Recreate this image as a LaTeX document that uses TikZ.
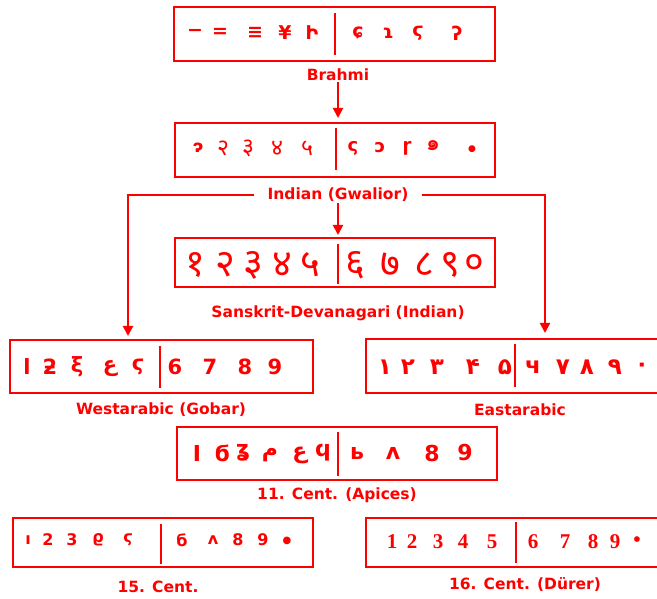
\documentclass[tikz,border=0pt]{standalone}
\usepackage{fontspec}
\setmainfont{DejaVu Sans}
\newfontfamily\symf{DejaVu Sans}
\newfontfamily\devaf[Script=Devanagari]{Noto Sans}
\newfontfamily\thaif[Script=Thai]{Loma}
\newfontfamily\serf{Liberation Serif}
\usetikzlibrary{arrows.meta}
\definecolor{rred}{RGB}{255,0,0}
\tikzset{
  frame/.style={draw=rred, line width=2pt, rectangle, inner sep=0pt},
  divider/.style={draw=rred, line width=2pt},
  lab/.style={text=rred, font=\bfseries\fontsize{15.5}{15.5}\selectfont, inner sep=1pt},
  gl/.style={text=rred, inner sep=0pt, anchor=center},
  conn/.style={draw=rred, line width=2pt},
  arr/.style={conn, -{Triangle[width=10pt,length=10pt]}},
}
\newcommand\glyphrow[4]{%
  \foreach \x/\g [count=\i] in {#4} \node[gl, font={#3}] (#1-\i) at (\x,#2) {\g};}
\begin{document}
\begin{tikzpicture}[x=1pt,y=-1pt]
\useasboundingbox (0,0) rectangle (657,599);
% boxes
\node[frame, minimum width=321pt, minimum height=54pt] (b1) at (334.5,34) {};
\node[frame, minimum width=320pt, minimum height=54pt] (b2) at (335,150) {};
\node[frame, minimum width=320pt, minimum height=49pt] (b3) at (335,262.5) {};
\node[frame, minimum width=303pt, minimum height=53pt] (b4) at (161.5,366.5) {};
\node[frame, minimum width=296pt, minimum height=54pt] (b5) at (514,366) {};
\node[frame, minimum width=320pt, minimum height=53pt] (b6) at (337,453.5) {};
\node[frame, minimum width=300pt, minimum height=49pt] (b7) at (163,542.5) {};
\node[frame, minimum width=296pt, minimum height=49pt] (b8) at (514,542.5) {};
% dividers
\draw[divider] (335,13) -- (335,55);
\draw[divider] (336,128) -- (336,170);
\draw[divider] (338,244) -- (338,284);
\draw[divider] (160,346) -- (160,388);
\draw[divider] (515,344) -- (515,387);
\draw[divider] (338,432) -- (338,476);
\draw[divider] (161,524) -- (161,564);
\draw[divider] (516,522) -- (516,563);
% glyphs
\glyphrow{g1}{33}{\symf\bfseries\fontsize{19}{19}\selectfont}{195/−, 220/=, 255/≡, 285/¥, 312/Ի, 358/ɕ, 388/ɿ, 418/ϛ, 457/ʔ}
\glyphrow{g2a}{148}{\symf\bfseries\fontsize{17}{17}\selectfont}{198/ɂ}
\glyphrow{g2b}{148}{\devaf\bfseries\fontsize{23}{23}\selectfont}{223/२, 248/३, 277/४, 307/५}
\glyphrow{g2c}{148}{\symf\bfseries\fontsize{18}{18}\selectfont}{353/ς, 380/ɔ, 407/ɼ}
\glyphrow{g2d}{146}{\thaif\bfseries\fontsize{22}{22}\selectfont}{433/๑}
\glyphrow{g2e}{149}{\symf\fontsize{9}{9}\selectfont}{472/●}
\glyphrow{g3}{265}{\devaf\bfseries\fontsize{38}{38}\selectfont}{195/१, 225/२, 253/३, 282/४, 310/५, 355/६, 390/७, 424/८, 450/९, 474/०}
\glyphrow{g4}{367}{\symf\bfseries\fontsize{21}{21}\selectfont}{27/l, 50/ƻ, 77/ξ, 138/ϛ, 175/6, 210/7, 245/8, 275/9}
\glyphrow{g4b}{369}{\symf\bfseries\fontsize{21}{21}\selectfont}{110/ع}
\glyphrow{g5}{367}{\symf\bfseries\fontsize{23}{23}\selectfont}{385/١, 408/٢, 437/٣, 473/۴, 505/۵, 533/ч, 563/٧, 587/٨, 615/٩, 642/٠}
\glyphrow{g6}{453}{\symf\bfseries\fontsize{22}{22}\selectfont}{197/I, 222/ϭ, 243/ʓ, 323/ϥ, 357/ь, 393/ʌ, 432/8, 465/9}
\glyphrow{g6b}{455}{\symf\bfseries\fontsize{22}{22}\selectfont}{270/م, 300/ع}
\glyphrow{g7}{540}{\symf\bfseries\fontsize{16}{16}\selectfont}{28/ı, 48/2, 72/3, 98/ϱ, 128/ϛ, 182/б, 213/ʌ, 238/8, 263/9}
\glyphrow{g7b}{541}{\symf\fontsize{10}{10}\selectfont}{287/●}
\glyphrow{g8}{542}{\serf\bfseries\fontsize{21}{21}\selectfont}{392/1, 412/2, 438/3, 463/4, 492/5, 533/6, 565/7, 593/8, 615/9, 637/•}
% labels
\node[lab] (l1) at (338,75) {Brahmi};
\node[lab] (l2) at (338,195) {Indian (Gwalior)};
\node[lab] (l3) at (338,313) {Sanskrit-Devanagari (Indian)};
\node[lab] (l4) at (161,410) {Westarabic (Gobar)};
\node[lab] (l5) at (520,410) {Eastarabic};
\node[lab] (l6) at (337,495) {11. Cent. (Apices)};
\node[lab] (l7) at (158,587) {15. Cent.};
\node[lab] (l8) at (525,585) {16. Cent. (Dürer)};
% connectors
\coordinate (wl) at (128,336);
\coordinate (el) at (545,333);
\draw[arr, shorten >=4pt] (l1.south) -- (l1.south |- b2.north);
\draw[arr, shorten >=2pt] (l2.south) -- (l2.south |- b3.north);
\draw[arr, shorten <=12pt] (l2.west) -| (wl);
\draw[arr, shorten <=12pt] (l2.east) -| (el);
\end{tikzpicture}
\end{document}
